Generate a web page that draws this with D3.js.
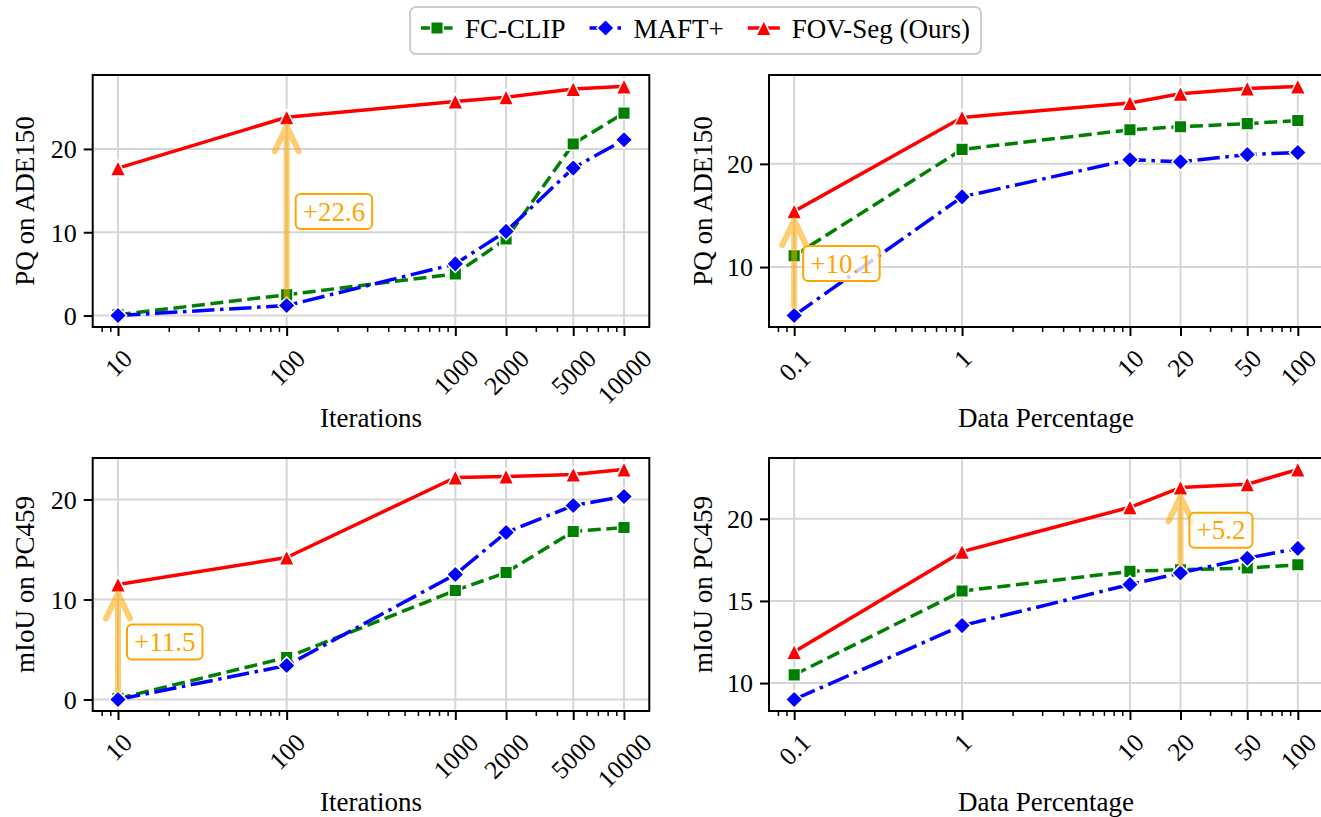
<!DOCTYPE html>
<meta charset="utf-8">
<style>
  body { margin: 0; background: #fff; }
  svg, svg text { font-family: "Liberation Serif", "Times New Roman", serif; }
  .grid line { stroke: #d6d6d6; stroke-width: 2px; }
  .frame { fill: none; stroke: #000; stroke-width: 2px; }
  .axis path.domain { display: none; }
  .axis line { stroke: #000; }
</style>
<svg width="1321" height="817"></svg>
<script src="https://d3js.org/d3.v7.min.js"></script>
<script>

// ---- data ----
var iterations = [10, 100, 1000, 2000, 5000, 10000];
var iterLabels = ["10", "100", "1000", "2000", "5000", "10000"];
var percentages = [0.1, 1, 10, 20, 50, 100];
var pctLabels = ["0.1", "1", "10", "20", "50", "100"];

var seriesNames = ["FC-CLIP", "MAFT+", "FOV-Seg (Ours)"];

// PQ on ADE150 vs iterations
var pqIterFC   = [0.1, 2.5, 5.0, 9.2, 20.6, 24.3];
var pqIterMAFT = [0.0, 1.2, 6.2, 10.1, 17.7, 21.1];
var pqIterFOV  = [17.7, 23.8, 25.7, 26.2, 27.2, 27.5];

// PQ on ADE150 vs data percentage
var pqPctFC   = [11.1, 21.4, 23.3, 23.6, 23.9, 24.2];
var pqPctMAFT = [5.3, 16.8, 20.4, 20.2, 20.9, 21.1];
var pqPctFOV  = [15.4, 24.5, 25.9, 26.8, 27.3, 27.5];

// mIoU on PC459 vs iterations
var miouIterFC   = [0.1, 4.2, 10.9, 12.7, 16.8, 17.2];
var miouIterMAFT = [0.0, 3.4, 12.5, 16.7, 19.4, 20.3];
var miouIterFOV  = [11.5, 14.2, 22.2, 22.3, 22.5, 23.0];

// mIoU on PC459 vs data percentage
var miouPctFC   = [10.5, 15.6, 16.8, 16.9, 17.0, 17.2];
var miouPctMAFT = [9.0, 13.5, 16.0, 16.7, 17.6, 18.2];
var miouPctFOV  = [11.9, 18.0, 20.7, 21.9, 22.1, 23.0];

var yTicksPqIter = [0, 10, 20];
var yTicksPqPct = [10, 20];
var yTicksMiouIter = [0, 10, 20];
var yTicksMiouPct = [10, 15, 20];

// gain annotations: x index, label
var gainIndex = [1, 0, 0, 3];
var gainLabels = ["+22.6", "+10.1", "+11.5", "+5.2"];

// ---- layout / style ----
var svg = d3.select("svg");
var font = "Liberation Serif";
var fs = 27, tickFs = 25.5;
var colors = ["green", "blue", "red"];
var dashes = ["13,5.6", "22.4,5.6,3.5,5.6", null];
var markers = ["square", "diamond", "triangle"];

var frames = [
  [92.7, 75, 649.3, 327],
  [769, 75, 1323, 327],
  [92.7, 458, 649.3, 711],
  [769, 458, 1323, 711]
];

var panels = [
  {xs: iterations, xl: iterLabels, xt: "Iterations", yt: "PQ on ADE150", yTicks: yTicksPqIter,
   series: [pqIterFC, pqIterMAFT, pqIterFOV]},
  {xs: percentages, xl: pctLabels, xt: "Data Percentage", yt: "PQ on ADE150", yTicks: yTicksPqPct,
   series: [pqPctFC, pqPctMAFT, pqPctFOV]},
  {xs: iterations, xl: iterLabels, xt: "Iterations", yt: "mIoU on PC459", yTicks: yTicksMiouIter,
   series: [miouIterFC, miouIterMAFT, miouIterFOV]},
  {xs: percentages, xl: pctLabels, xt: "Data Percentage", yt: "mIoU on PC459", yTicks: yTicksMiouPct,
   series: [miouPctFC, miouPctMAFT, miouPctFOV]}
];

function markerPath(type) {
  if (type == "square") { var s = 6.3; return "M" + -s + "," + -s + "H" + s + "V" + s + "H" + -s + "Z"; }
  if (type == "diamond") { var d = 8.6; return "M0," + -d + "L" + d + ",0L0," + d + "L" + -d + ",0Z"; }
  var h = 7.8; return "M0," + -h + "L" + h + "," + h + "L" + -h + "," + h + "Z";
}

panels.forEach(function(p, pi) {
  var f = frames[pi];
  var lx = Math.log10(d3.min(p.xs)), hx = Math.log10(d3.max(p.xs)), px = (hx - lx) * 0.05;
  var x = d3.scaleLog().domain([Math.pow(10, lx - px), Math.pow(10, hx + px)]).range([f[0], f[2]]);
  var all = d3.merge(p.series);
  var ly = d3.min(all), hy = d3.max(all), py = (hy - ly) * 0.05;
  var y = d3.scaleLinear().domain([ly - py, hy + py]).range([f[3], f[1]]);

  var g = svg.append("g");

  // grid
  var grid = g.append("g").attr("class", "grid");
  grid.selectAll(".gx").data(p.xs).enter().append("line")
      .attr("x1", function(d) { return x(d); }).attr("x2", function(d) { return x(d); })
      .attr("y1", f[1]).attr("y2", f[3]);
  grid.selectAll(".gy").data(p.yTicks).enter().append("line")
      .attr("y1", function(d) { return y(d); }).attr("y2", function(d) { return y(d); })
      .attr("x1", f[0]).attr("x2", f[2]);

  // series
  var clipId = "clip" + pi;
  svg.append("defs").append("clipPath").attr("id", clipId).append("rect")
      .attr("x", f[0]).attr("y", f[1]).attr("width", f[2] - f[0]).attr("height", f[3] - f[1]);

  p.series.forEach(function(vals, si) {
    var pts = vals.map(function(v, i) { return [p.xs[i], v]; });
    var line = d3.line().x(function(d) { return x(d[0]); }).y(function(d) { return y(d[1]); });
    g.append("path").datum(pts)
        .attr("d", line)
        .attr("clip-path", "url(#" + clipId + ")")
        .attr("fill", "none")
        .attr("stroke", colors[si])
        .attr("stroke-width", 3.5)
        .attr("stroke-linejoin", "round")
        .attr("stroke-linecap", dashes[si] ? "butt" : "square")
        .attr("stroke-dasharray", dashes[si]);
    g.selectAll(".m" + si).data(pts).enter().append("path")
        .attr("transform", function(d) { return "translate(" + x(d[0]) + "," + y(d[1]) + ")"; })
        .attr("d", markerPath(markers[si]))
        .attr("fill", colors[si])
        .attr("stroke", "#fff")
        .attr("stroke-width", 1.5);
  });

  // axes
  var xAxis = d3.axisBottom(x).tickValues(p.xs)
      .tickFormat(function(d, i) { return p.xl[i]; })
      .tickSize(9).tickSizeOuter(0);
  var minor = x.ticks().filter(function(t) { return p.xs.indexOf(t) < 0; });
  var xMinor = d3.axisBottom(x).tickValues(minor).tickFormat("").tickSize(5).tickSizeOuter(0);

  g.append("g").attr("class", "axis").attr("transform", "translate(0," + f[3] + ")")
      .call(xMinor)
      .selectAll("line").attr("stroke-width", 1.5);

  var gx = g.append("g").attr("class", "axis").attr("transform", "translate(0," + f[3] + ")")
      .call(xAxis)
      .attr("font-family", font).attr("font-size", tickFs);
  gx.selectAll("line").attr("stroke-width", 2);
  gx.selectAll(".tick text").each(function() {
    var el = d3.select(this).attr("font-family", font).attr("font-size", tickFs);
    var w = this.getComputedTextLength();
    var cy = 21 + (w + 0.68 * tickFs) * 0.3536;
    el.attr("x", 0).attr("y", 0).attr("dy", "0.34em")
        .attr("text-anchor", "middle").attr("fill", "#000")
        .attr("transform", "translate(0," + cy + ") rotate(-45)");
  });

  var gy = g.append("g").attr("class", "axis").attr("transform", "translate(" + f[0] + ",0)")
      .call(d3.axisLeft(y).tickValues(p.yTicks).tickSize(9).tickPadding(7).tickSizeOuter(0))
      .attr("font-family", font).attr("font-size", 26);
  gy.selectAll("line").attr("stroke-width", 2);
  gy.selectAll(".tick text").attr("dy", "0.34em").attr("fill", "#000")
      .attr("font-family", font).attr("font-size", 26);

  g.append("rect").attr("class", "frame")
      .attr("x", f[0]).attr("y", f[1]).attr("width", f[2] - f[0]).attr("height", f[3] - f[1]);

  // titles
  g.append("text").attr("x", (f[0] + f[2]) / 2).attr("y", f[3] + 100)
      .attr("text-anchor", "middle").attr("font-family", font).attr("font-size", fs).text(p.xt);
  var ylx = pi % 2 == 0 ? 34 : 712;
  g.append("text").attr("transform", "translate(" + ylx + "," + (f[1] + f[3]) / 2 + ") rotate(-90)")
      .attr("text-anchor", "middle").attr("font-family", font).attr("font-size", fs).text(p.yt);

  // gain arrow + label
  var gi = gainIndex[pi];
  var ax = x(p.xs[gi]);
  var yLo = y(p.series[1][gi]) - 9, yHi = y(p.series[2][gi]) + 9;
  g.append("path")
      .attr("d", "M" + ax + "," + yLo + "L" + ax + "," + yHi +
                 "M" + (ax - 12) + "," + (yHi + 25) + "L" + ax + "," + yHi + "L" + (ax + 12) + "," + (yHi + 25))
      .attr("fill", "none").attr("stroke", "orange").attr("stroke-width", 6)
      .attr("stroke-linecap", "round").attr("stroke-linejoin", "round")
      .attr("opacity", 0.55);
  var mid = (y(p.series[1][gi]) + y(p.series[2][gi])) / 2;
  var box = g.append("rect");
  var t = g.append("text").attr("x", ax + 16).attr("y", mid).attr("dy", "0.34em")
      .attr("font-family", font).attr("font-size", fs).attr("fill", "orange").text(gainLabels[pi]);
  var tw = t.node().getComputedTextLength();
  box.attr("x", ax + 9).attr("y", mid - 17.5).attr("width", tw + 14).attr("height", 35)
      .attr("rx", 5).attr("fill", "#fff").attr("fill-opacity", 0.8)
      .attr("stroke", "orange").attr("stroke-width", 2);
});

// ---- legend ----
var legend = svg.append("g");
var legBox = legend.append("rect");
var lx0 = 421, ly = 28;
seriesNames.forEach(function(name, i) {
  legend.append("line")
      .attr("x1", lx0).attr("x2", lx0 + 32).attr("y1", ly).attr("y2", ly)
      .attr("stroke", colors[i]).attr("stroke-width", 3.5)
      .attr("stroke-dasharray", dashes[i]);
  legend.append("path").attr("transform", "translate(" + (lx0 + 16) + "," + ly + ")")
      .attr("d", markerPath(markers[i])).attr("fill", colors[i])
      .attr("stroke", "#fff").attr("stroke-width", 1.5);
  var t = legend.append("text").attr("x", lx0 + 44).attr("y", 37.5)
      .attr("font-family", font).attr("font-size", fs).text(name);
  lx0 = lx0 + 44 + t.node().getComputedTextLength() + 24;
});
legBox.attr("x", 410).attr("y", 7).attr("width", lx0 - 24 + 11 - 410).attr("height", 47)
    .attr("rx", 6).attr("fill", "#fff").attr("stroke", "#cccccc").attr("stroke-width", 2);

</script>
